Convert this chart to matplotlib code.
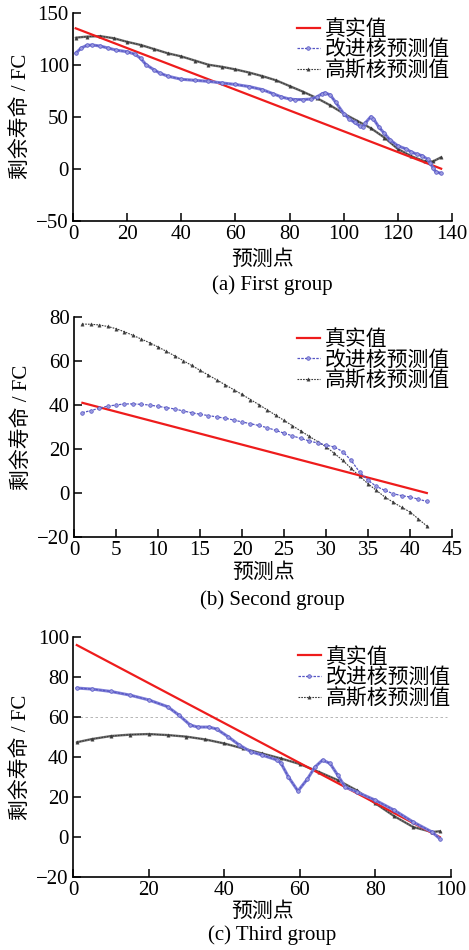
import matplotlib
matplotlib.use('Agg')
import matplotlib.pyplot as plt
import numpy as np

# fonts: serif numbers, CJK fallback for the Chinese labels
FONTS = ['Liberation Serif', 'Noto Sans CJK SC']
plt.rcParams['font.family'] = FONTS
plt.rcParams['axes.unicode_minus'] = True

# ---------------- data ----------------
# (a) First group
a_true_x = [1, 136]
a_true_y = [135, 0]
a_imp_x = [1, 3, 5, 7, 10, 13, 16, 20, 23, 25, 27, 30, 32, 35, 40, 45, 50, 55, 60, 65, 70, 74, 77, 80,
           82, 85, 88, 90, 92, 93, 95, 97, 100, 102, 104, 106, 107, 108, 110, 111, 113, 115, 117,
           120, 123, 125, 127, 129, 131, 132, 133, 134, 136]
a_imp_y = [111, 116, 118.5, 119, 118, 116, 114, 112.5, 110, 106, 100, 95, 92, 89, 86, 85, 84, 82.5, 81,
           79, 76, 72, 69, 67, 66.5, 66.5, 67, 69, 72, 73, 71, 64, 53, 48, 44.5, 41, 40, 44, 50, 48,
           40, 34, 28, 22, 19, 16, 14, 12.5, 9, 5, 1, -3, -4.5]
a_gau_x = [1, 5, 10, 15, 20, 25, 30, 35, 40, 45, 50, 55, 60, 65, 70, 75, 80, 85, 90, 95, 100, 105,
           110, 115, 120, 125, 130, 133, 136]
a_gau_y = [126, 127, 127.5, 125.5, 122, 119, 115, 111, 108, 104, 100, 98, 95.5, 92.5, 89, 85, 79.5,
           74, 68, 61, 53, 46, 39, 30, 19, 12, 7, 7, 11]

# (b) Second group
b_true_x = [1, 42]
b_true_y = [41, 0]
b_imp_x = list(range(1, 43))
b_imp_y = [36.5, 37.5, 38.5, 39.5, 40, 40.5, 40.5, 40.3, 40, 39.4, 38.8, 38.2, 37.3, 36.5, 35.8,
           35.2, 34.6, 34, 33.2, 32.3, 31.5, 30.7, 29.7, 28.5, 27.2, 26, 24.8, 23.7, 22.7, 21.8,
           20.9, 18.8, 14.8, 9.5, 5.8, 3, 1.2, -0.3, -1.2, -1.8, -2.8, -3.8]
b_gau_y = [76.8, 76.7, 76.4, 75.7, 74.7, 73.3, 71.7, 70, 68.3, 66.4, 64.4, 62.3, 60.2, 58, 55.8,
           53.6, 51.4, 49.2, 47, 44.8, 42.5, 40.2, 37.8, 35.4, 33, 30.6, 28.2, 25.8, 23.4, 21,
           18, 14.8, 11.2, 7.6, 4.2, 1.2, -1.8, -4.2, -6.5, -8.6, -11.8, -15]

# (c) Third group
c_true_x = [1, 97]
c_true_y = [96, 0]
c_imp_x = [1, 5, 10, 15, 20, 25, 28, 31, 33, 36, 38, 41, 44, 47, 50, 54, 55, 57, 59.5, 62, 64, 66,
           68, 70, 72, 75, 80, 85, 90, 95, 97]
c_imp_y = [74.5, 74, 72.8, 71, 68.6, 65.2, 61, 56, 55, 55, 54, 50.2, 46, 42.7, 41, 38.5, 37, 30,
           23, 29, 35, 38.5, 36.8, 31, 25, 22.6, 18.4, 13.4, 7.5, 2.5, -0.8]
c_gau_x = [1, 5, 10, 15, 20, 25, 30, 35, 40, 45, 50, 55, 60, 65, 70, 75, 80, 85, 90, 95, 97]
c_gau_y = [47.4, 49, 50.5, 51.2, 51.5, 51, 50.2, 48.8, 46.8, 44.3, 41.8, 39.3, 36.5, 32.6, 28.5,
           23.4, 16.8, 10.4, 5, 2.5, 2.9]
c_ref_y = 60

labels = ['真实值', '改进核预测值', '高斯核预测值']
captions = ['(a) First group', '(b) Second group', '(c) Third group']

RED = '#ee1c1c'
BLUE = '#5555c4'
GRAY = '#3a3a3a'

fig = plt.figure(figsize=(4.69, 9.5), dpi=100)

panels = [
    # rect, xlim, xticks, ylim, yticks, legend anchor, xlabel y, caption y, dense
    ([0.1557, 0.7677, 0.808, 0.2189], (0, 140), np.arange(0, 141, 20), (-50, 150), np.arange(-50, 151, 50),
     (0.59, 0.965), -0.141, 1 - 285 / 950, True),
    ([0.1578, 0.4347, 0.806, 0.2316], (0, 45), np.arange(0, 46, 5), (-20, 80), np.arange(-20, 81, 20),
     (0.59, 0.94), -0.118, 1 - 600 / 950, False),
    ([0.1557, 0.0768, 0.806, 0.2526], (0, 100), np.arange(0, 101, 20), (-20, 100), np.arange(-20, 101, 20),
     (0.595, 0.955), -0.104, 1 - 935 / 950, True),
]
series = [
    (a_true_x, a_true_y, a_imp_x, a_imp_y, a_gau_x, a_gau_y),
    (b_true_x, b_true_y, b_imp_x, b_imp_y, b_imp_x, b_gau_y),
    (c_true_x, c_true_y, c_imp_x, c_imp_y, c_gau_x, c_gau_y),
]

for i, (p, s) in enumerate(zip(panels, series)):
    rect, xlim, xt, ylim, yt, lanchor, xly, capy, dense = p
    tx, ty, ix, iy, gx, gy = s
    ax = fig.add_axes(rect)
    if i == 2:
        ax.axhline(c_ref_y, xmin=0.005, xmax=0.99, color='#aaaaaa', lw=0.6, ls=(0, (3, 3)), zorder=0)
    ax.plot(tx, ty, color=RED, lw=1.6, label=labels[0], zorder=3)
    if dense:
        # long series: markers merge into a thick fuzzy band
        ax.plot(ix, iy, color='#8080d8', lw=2.2, solid_capstyle='round', zorder=4)
        ax.plot(gx, gy, color='#707070', lw=1.7, solid_capstyle='round', zorder=2)
    ax.plot(ix, iy, color=BLUE, lw=0.9, ls=(0, (2, 1)), marker='o', ms=2.6, mfc='#9a9ae0',
            mec=BLUE, mew=0.5, label=labels[1], zorder=4)
    ax.plot(gx, gy, color=GRAY, lw=0.8, ls=(0, (1.5, 1)), marker='^', ms=2.4, mfc=GRAY,
            mec=GRAY, mew=0.3, label=labels[2], zorder=2)
    ax.set_xlim(*xlim)
    ax.set_ylim(*ylim)
    ax.set_xticks(xt)
    ax.set_yticks(yt)
    for sp in ['top', 'right']:
        ax.spines[sp].set_visible(False)
    for sp in ['left', 'bottom']:
        ax.spines[sp].set_linewidth(1.2)
    ax.tick_params(direction='in', length=6, width=1.1, labelsize=15, pad=3)
    ax.set_xlabel('预测点', fontsize=15, family=FONTS)
    ax.set_ylabel('剩余寿命 / FC', fontsize=15, family=FONTS)
    ax.xaxis.set_label_coords(0.5, xly)
    ax.yaxis.set_label_coords(-0.112, 0.5)
    ax.legend(loc='upper left', bbox_to_anchor=lanchor, frameon=False,
              handlelength=1.1, handletextpad=0.25, labelspacing=0.05, borderpad=0,
              borderaxespad=0, prop={'family': FONTS, 'size': 15})
    fig.text(0.58, capy, captions[i], ha='center', va='center', fontsize=15,
             family='Liberation Serif')

fig.savefig('out.png', dpi=100)
